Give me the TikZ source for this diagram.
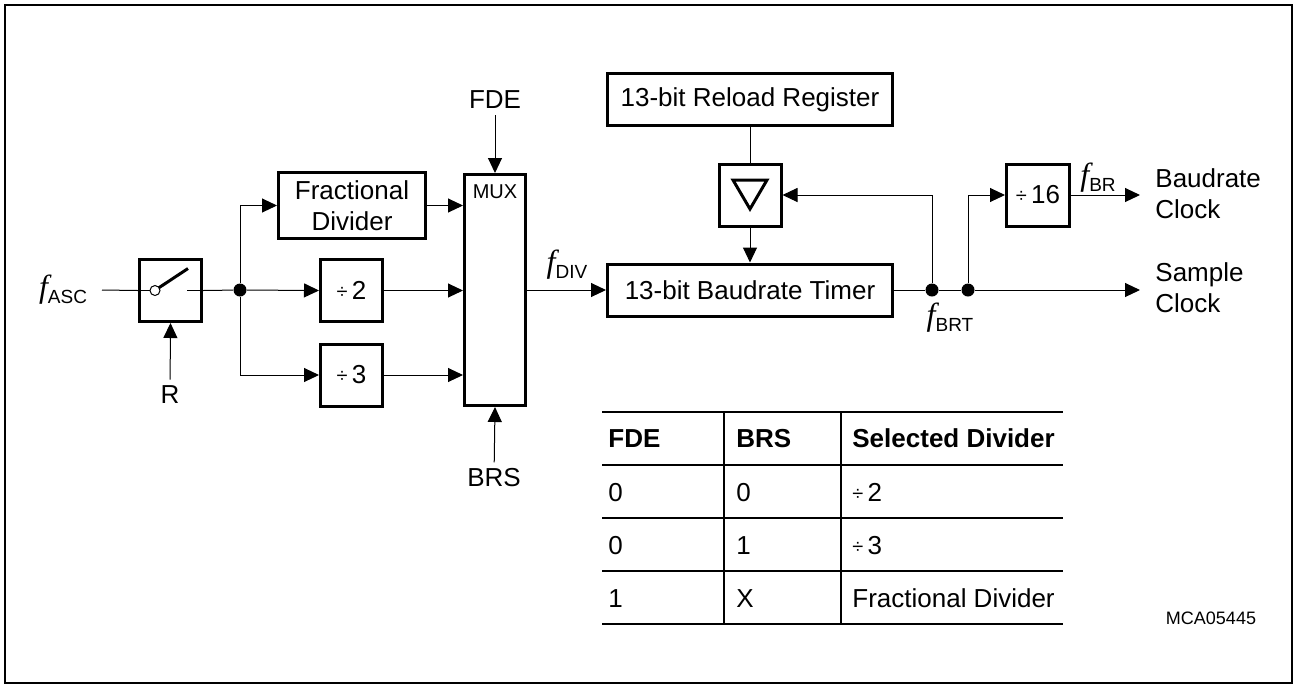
\documentclass[tikz,border=0pt]{standalone}
\usepackage{fontspec}
\setmainfont{Liberation Sans}
\newfontfamily\fitfont{Liberation Serif}
\usetikzlibrary{positioning,arrows.meta,calc}

\newcommand{\fsig}[1]{{\fitfont\itshape\fontsize{16}{16}\selectfont f}\raisebox{-3pt}{\fontsize{9.5}{10}\selectfont #1}}
\newcommand{\dvsign}{{\fontsize{10}{10}\selectfont\raisebox{0.5pt}{÷}}\,}

\begin{document}
\begin{tikzpicture}[x=0.5pt, y=-0.5pt,
   blockbox/.style={draw, rectangle, line width=1.5pt, align=center, inner sep=0pt, font=\fontsize{13}{15.5}\selectfont},
   sigtext/.style={inner sep=3pt, align=left, font=\fontsize{13}{15.5}\selectfont},
   dot/.style={circle, fill, inner sep=0pt, minimum size=6.5pt},
   wire/.style={line width=0.5pt},
   arrow/.style={-{Triangle[length=7.5pt,width=7pt]}, line width=0.5pt},
   tabtext/.style={anchor=base west, inner sep=0pt, font=\fontsize{13}{15.5}\selectfont}
]
\useasboundingbox (0,0) rectangle (1297,687);
\draw [line width=1pt] (5,5) rectangle (1292,683);

% Nodes
\node [blockbox, minimum width=31pt, minimum height=31pt] (sw) at (170.5,290.5) {};
\node [blockbox, minimum width=73.5pt, minimum height=33pt] (frac) at (352,205.5) {Fractional\\Divider};
\node [blockbox, minimum width=31pt, minimum height=31pt] (div2) at (351.5,290.5) {\dvsign 2};
\node [blockbox, minimum width=31pt, minimum height=31pt] (div3) at (351.5,375) {\dvsign 3};
\node [blockbox, minimum width=30.5pt, minimum height=115.5pt] (mux) at (495,290) {};
\node [font=\fontsize{10}{12}\selectfont, inner sep=0pt] (muxlbl) at (495,192) {MUX};
\node [blockbox, minimum width=142.5pt, minimum height=26pt] (reload) at (750,99.5) {13-bit Reload Register};
\node [blockbox, minimum width=31pt, minimum height=31pt] (trib) at (750,195) {};
\node [blockbox, minimum width=142.5pt, minimum height=26pt] (timer) at (750,290) {13-bit Baudrate Timer};
\node [blockbox, minimum width=31.5pt, minimum height=31pt] (div16) at (1038,195) {\dvsign 16};

\node [dot] (split) at (240,290) {};
\node [dot] (brt1) at (932,290) {};
\node [dot] (brt2) at (968,290) {};

\node [sigtext] (fasc) at (63,290) {\fsig{ASC}};
\node [sigtext] (rlab) at (170,395) {R};
\node [sigtext] (fde) at (495,100) {FDE};
\node [sigtext] (brs) at (494,478) {BRS};
\node [sigtext] (fdiv) at (567,265) {\fsig{DIV}};
\node [sigtext] (fbrt) at (950,318) {\fsig{BRT}};
\node [sigtext] (fbr) at (1098,178) {\fsig{BR}};
\node [sigtext, anchor=west] (baud) at (1149,194) {Baudrate\\Clock};
\node [sigtext, anchor=west] (sample) at (1149,288) {Sample\\Clock};

\coordinate (ascin) at (102,290);
\coordinate (baudend) at (1140,195);
\coordinate (smpend) at (1140,290);

% Switch and triangle symbols
\draw [wire] (sw.west) -- ($(sw)+(-20.5,0)$);
\draw [line width=1.5pt] ($(sw)+(-12,-2.5)$) -- ($(sw)+(17.5,-22)$);
\draw [wire, fill=white] ($(sw)+(-15.5,0)$) circle (2.5pt);
\draw [wire] ($(sw)+(16.5,0)$) -- (sw.east);
\draw [line width=1.5pt, line join=miter] ($(trib)+(-17,-15)$) -- ($(trib)+(17,-15)$) -- ($(trib)+(0,14)$) -- cycle;

% Connections
\draw [wire] (ascin) -- (sw.west);
\draw [arrow] (rlab) -- (sw.south);
\draw [wire] (sw.east) -- (split);
\draw [arrow] (split) |- (frac.west);
\draw [arrow] (split) -- (div2.west);
\draw [arrow] (split) |- (div3.west);
\draw [arrow] (frac.east) -- (frac.east -| mux.west);
\draw [arrow] (div2.east) -- (div2.east -| mux.west);
\draw [arrow] (div3.east) -- (div3.east -| mux.west);
\draw [arrow] (fde) -- (mux.north);
\draw [arrow] (brs) -- (mux.south);
\draw [arrow] (mux.east |- timer.west) -- (timer.west);
\draw [wire] (reload.south) -- (trib.north);
\draw [arrow] (trib.south) -- (timer.north);
\draw [wire] (timer.east) -- (brt1);
\draw [wire] (brt1) -- (brt2);
\draw [arrow] (brt2) -- (smpend);
\draw [arrow] (brt1) |- (trib.east);
\draw [arrow] (brt2) |- (div16.west);
\draw [arrow] (div16.east) -- (baudend);

% Table
\draw [line width=0.75pt] (602,412) -- (1063,412);
\draw [line width=0.75pt] (602,465) -- (1063,465);
\draw [line width=0.75pt] (602,518) -- (1063,518);
\draw [line width=0.75pt] (602,571) -- (1063,571);
\draw [line width=0.75pt] (602,624) -- (1063,624);
\draw [line width=0.75pt] (724,412) -- (724,624);
\draw [line width=0.75pt] (841,412) -- (841,624);

\node [tabtext] (hfde) at (608,447.5) {\textbf{FDE}};
\node [tabtext] (hbrs) at (736,447.5) {\textbf{BRS}};
\node [tabtext] (hsel) at (852,447.5) {\textbf{Selected Divider}};
\node [tabtext] (fde1) at (608,501.5) {0};
\node [tabtext] (brs1) at (736,501.5) {0};
\node [tabtext] (sel1) at (852,501.5) {\dvsign 2};
\node [tabtext] (fde2) at (608,554.5) {0};
\node [tabtext] (brs2) at (736,554.5) {1};
\node [tabtext] (sel2) at (852,554.5) {\dvsign 3};
\node [tabtext] (fde3) at (608,607.5) {1};
\node [tabtext] (brs3) at (736,607.5) {X};
\node [tabtext] (sel3) at (852,607.5) {Fractional Divider};

\node [font=\fontsize{9}{10}\selectfont, inner sep=0pt] (figid) at (1211,618) {MCA05445};

\end{tikzpicture}
\end{document}
